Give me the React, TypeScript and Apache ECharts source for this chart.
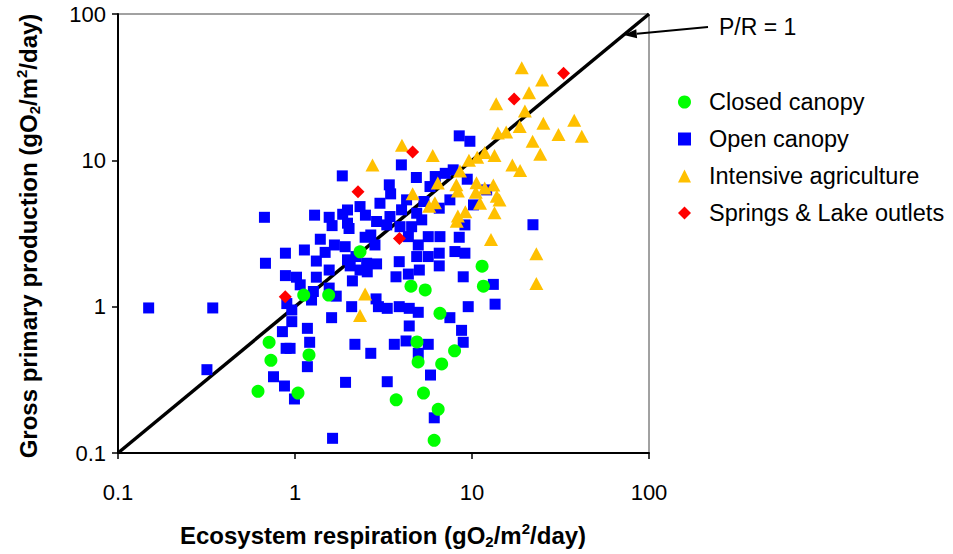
import React, { useEffect, useRef } from "react";
import * as echarts from "echarts";

// [ecosystem respiration, gross primary production] in gO2/m2/day
const closedCanopy: number[][] = [
  [2.33, 2.37], [11.4, 1.89], [4.52, 1.38], [5.44, 1.3], [11.6, 1.38], [1.12, 1.2], [1.55, 1.2],
  [6.59, 0.9], [0.714, 0.571], [4.89, 0.574], [0.731, 0.43], [1.2, 0.468], [7.97, 0.499],
  [4.96, 0.419], [6.74, 0.406], [0.618, 0.264], [1.04, 0.257], [3.73, 0.231], [5.32, 0.257],
  [6.44, 0.199], [6.11, 0.122],
];

const openCanopy: number[][] = [
  [0.149, 0.98], [0.343, 0.98], [0.318, 0.371],
  [1.85, 7.83], [0.672, 4.08], [1.29, 4.22], [1.56, 4.08], [1.62, 3.58], [1.86, 4.28], [1.98, 4.58],
  [2.33, 4.83], [2.5, 4.22], [1.98, 3.72], [2.02, 3.42], [1.39, 2.89], [1.67, 2.64], [1.13, 2.44],
  [0.883, 2.32], [1.48, 2.35], [1.92, 2.57], [2.49, 2.98], [2.68, 3.09], [1.32, 2.05], [0.681, 1.98],
  [1.56, 1.78], [1.98, 2.09], [2.05, 1.9], [2.54, 1.98], [2.56, 1.73], [0.883, 1.63], [1.02, 1.59],
  [1.32, 1.59], [1.07, 1.41], [2.11, 1.5], [1.27, 1.27], [1.56, 1.34], [1.71, 1.18], [2.21, 2.2],
  [2.33, 1.78],
  [8.47, 14.7], [9.73, 13.5], [3.99, 9.31], [4.85, 7.63], [3.41, 6.8], [3.47, 5.9], [3.02, 5.09],
  [6.2, 7.75], [7.06, 8.15], [7.83, 8.61], [9.4, 7.43], [5.79, 6.62], [5.35, 5.23], [7.5, 5.37],
  [6.53, 4.71], [4.27, 5.37], [4.0, 4.59], [4.87, 4.35], [5.2, 3.92], [3.44, 4.13], [3.3, 3.62],
  [2.89, 3.82], [3.92, 3.52], [4.56, 3.52], [4.37, 3.01], [2.83, 2.64], [4.97, 2.64], [5.66, 3.01],
  [6.59, 3.01], [8.47, 2.98], [8.01, 2.38], [9.12, 2.32], [6.53, 2.32], [4.87, 2.2], [5.66, 2.2],
  [6.53, 1.9], [5.04, 1.78], [3.88, 2.03], [2.89, 1.96], [4.37, 1.67], [3.72, 1.6], [8.92, 1.6],
  [10.2, 4.96], [9.12, 3.62], [12.1, 6.28],
  [0.899, 1.05], [0.959, 0.949], [0.959, 0.79], [0.849, 0.675], [0.891, 0.519], [0.938, 0.519],
  [1.175, 0.711], [1.21, 0.571], [1.175, 0.389], [0.756, 0.332], [0.872, 0.287], [0.993, 0.234],
  [1.61, 0.841], [1.24, 1.11], [2.09, 1.0], [2.18, 0.553], [2.68, 0.48], [1.93, 0.304], [1.63, 0.126],
  [2.87, 1.13], [2.96, 1.0], [3.32, 0.974], [3.88, 1.0], [4.42, 0.974], [4.97, 0.915], [7.5, 0.841],
  [9.52, 1.0], [13.5, 1.04], [4.42, 0.738], [8.73, 0.689], [8.92, 0.571], [4.24, 0.583], [3.64, 0.553],
  [5.66, 0.553], [4.97, 0.48], [5.83, 0.341], [3.32, 0.307], [6.12, 0.174],
  [22.1, 3.63], [13.2, 1.42],
];

const intensiveAgriculture: number[][] = [
  [19.1, 43.0], [24.9, 35.4], [21.0, 29.0], [13.7, 24.4], [19.9, 21.7], [25.3, 17.9], [37.8, 18.8],
  [18.6, 17.0], [14.0, 15.4], [15.6, 15.6], [30.8, 15.0], [41.7, 14.6], [22.0, 13.5], [24.3, 11.0],
  [16.9, 9.28], [18.7, 8.53], [4.02, 12.7], [6.0, 10.8], [2.74, 9.28], [9.61, 10.0], [10.7, 10.5],
  [11.8, 11.3], [13.4, 10.8], [8.55, 8.44], [6.41, 6.99], [8.16, 6.81], [8.32, 6.16], [10.6, 7.03],
  [11.8, 6.46], [13.2, 6.77], [4.62, 5.91], [10.5, 6.06], [13.8, 5.69], [14.3, 5.35], [5.73, 4.86],
  [6.17, 5.13], [11.1, 5.09], [8.32, 4.16], [8.2, 3.84], [9.17, 4.45], [13.4, 4.38], [12.8, 2.88],
  [23.1, 2.3], [23.1, 1.44], [2.49, 1.22], [2.33, 0.87],
];

const springsLakeOutlets: number[][] = [
  [32.9, 39.3], [17.3, 26.2], [4.62, 11.4], [2.27, 6.1], [3.89, 2.92], [0.881, 1.17],
];

// P/R = 1 reference line
const prLine: number[][] = [[0.1, 0.1], [100, 100]];

const tickLabels: Record<string, string> = { "-1": "0.1", "0": "1", "1": "10", "2": "100" };

const seriesNames = ["Closed canopy", "Open canopy", "Intensive agriculture", "Springs & Lake outlets"];

const fontFamily = '"Liberation Sans", Arial, Helvetica, sans-serif';

const formatTick = (v: number) => tickLabels[String(Math.round(Math.log10(v)))] ?? String(v);

const titleRich = {
  b: { fontSize: 24, fontWeight: "bold", fontFamily, lineHeight: 28, fill: "#000" },
  sub: { fontSize: 15, fontWeight: "bold", fontFamily, lineHeight: 14, verticalAlign: "bottom", fill: "#000" },
  sup: { fontSize: 15, fontWeight: "bold", fontFamily, lineHeight: 16, verticalAlign: "top", fill: "#000" },
};

const unitText = "{b|(gO}{sub|2}{b|/m}{sup|2}{b|/day)}";

export default function App() {
  const ref = useRef<HTMLDivElement>(null);

  useEffect(() => {
    if (!ref.current) return;
    const chart = echarts.init(ref.current, undefined, { renderer: "svg" });

    const axisCommon = {
      type: "log" as const,
      logBase: 10,
      min: 0.1,
      max: 100,
      splitLine: { show: false },
      minorTick: { show: false },
      axisLine: { show: true, lineStyle: { color: "#000", width: 2 } },
      axisTick: { show: true, inside: false, length: 6, lineStyle: { color: "#000", width: 1.5 } },
    };

    chart.setOption({
      animation: false,
      backgroundColor: "#fff",
      textStyle: { fontFamily },
      grid: {
        left: 118,
        top: 14,
        width: 531,
        height: 439,
        show: true,
        borderColor: "#444",
        borderWidth: 1,
        backgroundColor: "transparent",
      },
      xAxis: {
        ...axisCommon,
        axisLabel: { fontSize: 22, color: "#000", fontFamily, margin: 28, formatter: formatTick },
      },
      yAxis: {
        ...axisCommon,
        axisLabel: { fontSize: 22, color: "#000", fontFamily, margin: 12, formatter: formatTick },
      },
      legend: {
        data: seriesNames,
        orient: "vertical",
        left: 673,
        top: 85,
        itemWidth: 13,
        itemHeight: 13,
        itemGap: 13,
        textStyle: { fontSize: 23.5, color: "#000", fontFamily, lineHeight: 24, padding: [0, 0, 0, 13] },
      },
      series: [
        {
          type: "line",
          data: prLine,
          symbol: "none",
          silent: true,
          z: 1,
          lineStyle: { color: "#000", width: 3.5 },
        },
        {
          name: "Open canopy",
          type: "scatter",
          symbol: "rect",
          symbolSize: 11,
          z: 2,
          itemStyle: { color: "#0000FF", opacity: 1 },
          data: openCanopy,
        },
        {
          name: "Closed canopy",
          type: "scatter",
          symbol: "circle",
          symbolSize: 13,
          z: 3,
          itemStyle: { color: "#00FF00", opacity: 1 },
          data: closedCanopy,
        },
        {
          name: "Intensive agriculture",
          type: "scatter",
          symbol: "triangle",
          symbolSize: [14, 13],
          z: 4,
          itemStyle: { color: "#FFC000", opacity: 1 },
          data: intensiveAgriculture,
        },
        {
          name: "Springs & Lake outlets",
          type: "scatter",
          symbol: "diamond",
          symbolSize: 13,
          z: 5,
          itemStyle: { color: "#FF0000", opacity: 1 },
          data: springsLakeOutlets,
        },
      ],
    });

    // arrow pointing at the P/R = 1 line
    const tip = chart.convertToPixel({ gridIndex: 0 }, [72, 72]) as number[];
    const tail = [708, 27];
    const dx = tip[0] - tail[0];
    const dy = tip[1] - tail[1];
    const len = Math.hypot(dx, dy);
    const ux = dx / len;
    const uy = dy / len;
    const headLen = 13;
    const headHalf = 4.5;
    const bx = tip[0] - ux * headLen;
    const by = tip[1] - uy * headLen;

    chart.setOption({
      graphic: [
        {
          type: "line",
          shape: { x1: tail[0], y1: tail[1], x2: bx, y2: by },
          style: { stroke: "#000", lineWidth: 2 },
          z: 10,
        },
        {
          type: "polygon",
          shape: {
            points: [
              [tip[0], tip[1]],
              [bx - uy * headHalf, by + ux * headHalf],
              [bx + uy * headHalf, by - ux * headHalf],
            ],
          },
          style: { fill: "#000" },
          z: 10,
        },
        {
          type: "text",
          x: 719,
          y: 27,
          style: { text: "P/R = 1", fontSize: 23, fontFamily, fill: "#000", align: "left", verticalAlign: "middle" },
          z: 10,
        },
        {
          type: "text",
          x: 383,
          y: 535,
          style: {
            text: "{b|Ecosystem respiration }" + unitText,
            rich: titleRich,
            align: "center",
            verticalAlign: "middle",
          },
          z: 10,
        },
        {
          type: "text",
          x: 28,
          y: 236,
          rotation: Math.PI / 2,
          style: {
            text: "{b|Gross primary production }" + unitText,
            rich: titleRich,
            align: "center",
            verticalAlign: "middle",
          },
          z: 10,
        },
      ],
    });

    return () => chart.dispose();
  }, []);

  return <div ref={ref} style={{ position: "fixed", left: 0, top: 0, width: 953, height: 554 }} />;
}
